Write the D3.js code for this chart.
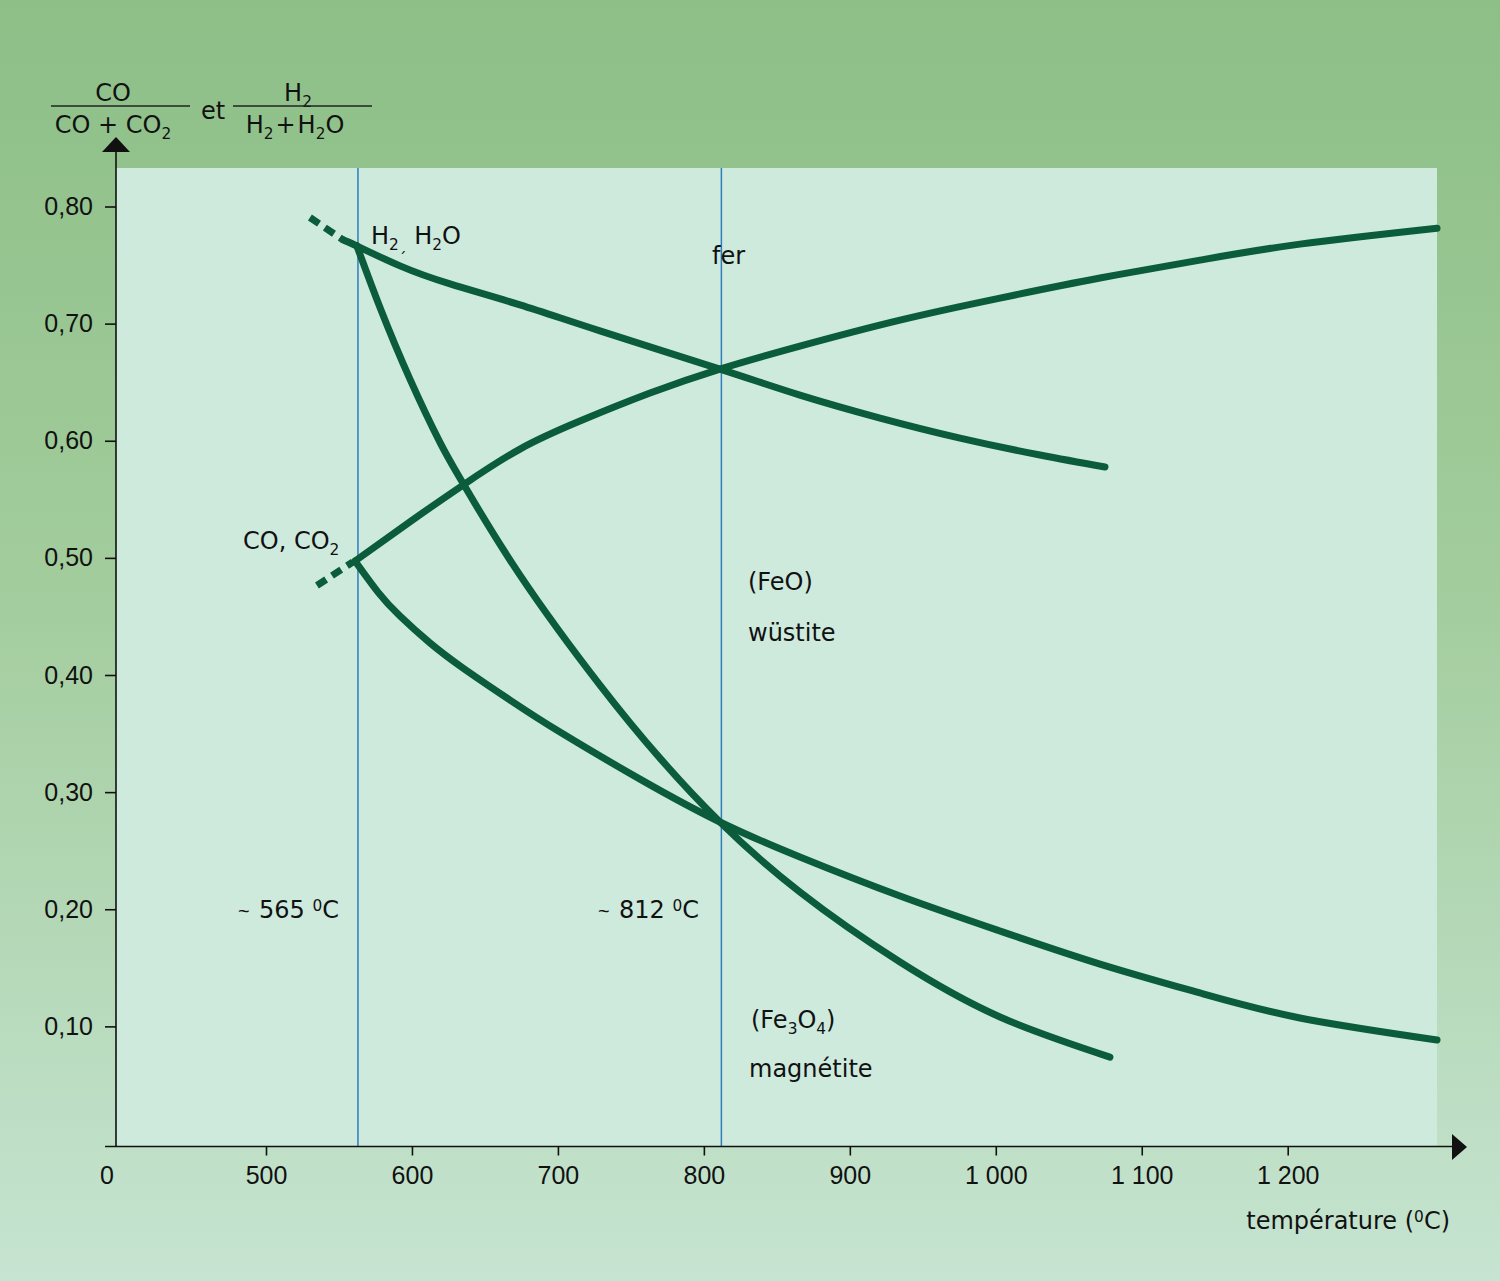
<!DOCTYPE html>
<html><head><meta charset="utf-8">
<script src="https://cdn.jsdelivr.net/npm/d3@7"></script>
<style>
html,body{margin:0;padding:0;background:#fff;}
svg text{fill:#111;}
</style></head>
<body>
<svg id="chart" width="1500" height="1281"></svg>
<script>
// ---- data ----
const tempTicks = [500, 600, 700, 800, 900, 1000, 1100, 1200];
const tempTickLabels = ["500", "600", "700", "800", "900", "1 000", "1 100", "1 200"];
const ratioTicks = [0.1, 0.2, 0.3, 0.4, 0.5, 0.6, 0.7, 0.8];
const ratioTickLabels = ["0,10", "0,20", "0,30", "0,40", "0,50", "0,60", "0,70", "0,80"];

// CO/CO2 : fer / wüstite
const coFeT = [561.0, 599.3, 635.0, 674.0, 715.1, 763.1, 811.0, 865.8, 934.4, 1002.9, 1071.4, 1139.9, 1208.4, 1302.3];
const coFeV = [0.4973, 0.5314, 0.5622, 0.5929, 0.6168, 0.6407, 0.6612, 0.6808, 0.7030, 0.7218, 0.7389, 0.7542, 0.7679, 0.7815];
// CO/CO2 : wüstite / magnétite
const coMagT = [561.0, 576.7, 591.8, 612.4, 635.0, 667.2, 701.4, 756.2, 811.0, 865.8, 934.4, 1002.9, 1071.4, 1139.9, 1208.4, 1302.3];
const coMagV = [0.4973, 0.4708, 0.4503, 0.4273, 0.4059, 0.3786, 0.3513, 0.3111, 0.2745, 0.2446, 0.2113, 0.1814, 0.1532, 0.1285, 0.1072, 0.0884];
// H2/H2O : fer / wüstite
const h2FeT = [552.8, 562.3, 591.8, 626.1, 674.0, 728.8, 811.0, 865.8, 920.7, 975.5, 1030.3, 1074.8];
const h2FeV = [0.7715, 0.7663, 0.7493, 0.7339, 0.7160, 0.6938, 0.6612, 0.6390, 0.6194, 0.6023, 0.5878, 0.5776];
// H2/H2O : wüstite / magnétite
const h2MagT = [562.3, 578.1, 598.7, 619.2, 635.0, 674.0, 728.8, 769.9, 811.0, 865.8, 934.4, 1002.9, 1078.2];
const h2MagV = [0.7663, 0.7138, 0.6524, 0.5986, 0.5636, 0.4853, 0.3914, 0.3290, 0.2745, 0.2147, 0.1549, 0.1080, 0.0738];
// extrapolations (pointillés)
const h2ExtT = [530.1, 552.8];
const h2ExtV = [0.7906, 0.7715];
const coExtT = [534.9, 559.5];
const coExtV = [0.4764, 0.4965];
// températures de transition
const transitionT = [563, 812];

// ---- layout ----
const svg = d3.select("#chart");
const W = 1500, H = 1281;
const plot = {left: 116, right: 1437, top: 168, bottom: 1146};
const numFont = "'Liberation Sans', Arial, Helvetica, sans-serif";
const txtFont = "'DejaVu Sans', Verdana, sans-serif";

const x = d3.scaleLinear().domain([500, 1200]).range([266, 1287.7]);
const y = d3.scaleLinear().domain([0, 0.8]).range([1143.5, 206.5]);

const defs = svg.append("defs");
const grad = defs.append("linearGradient").attr("id", "bg").attr("x1", 0).attr("y1", 0).attr("x2", 0).attr("y2", 1);
grad.append("stop").attr("offset", "0%").attr("stop-color", "#8dbf87");
grad.append("stop").attr("offset", "45%").attr("stop-color", "#a2cc9c");
grad.append("stop").attr("offset", "100%").attr("stop-color", "#c6e4d1");

svg.append("rect").attr("width", W).attr("height", H).attr("fill", "url(#bg)");
svg.append("rect").attr("x", plot.left).attr("y", plot.top)
  .attr("width", plot.right - plot.left).attr("height", plot.bottom - plot.top)
  .attr("fill", "#cdeadd");

// transition lines
svg.selectAll("line.trans").data(transitionT).join("line")
  .attr("class", "trans")
  .attr("x1", d => x(d)).attr("x2", d => x(d))
  .attr("y1", plot.top).attr("y2", plot.bottom)
  .attr("stroke", "#2f7dbd").attr("stroke-width", 1.5);

// curves
const green = "#0a5c3b";
const line = d3.line().x(d => x(d[0])).y(d => y(d[1])).curve(d3.curveNatural);
const zip = (a, b) => a.map((v, i) => [v, b[i]]);
const solids = [zip(coFeT, coFeV), zip(coMagT, coMagV), zip(h2FeT, h2FeV), zip(h2MagT, h2MagV)];
svg.selectAll("path.curve").data(solids).join("path")
  .attr("class", "curve").attr("d", line)
  .attr("fill", "none").attr("stroke", green).attr("stroke-width", 7)
  .attr("stroke-linecap", "round").attr("stroke-linejoin", "round");
const dashed = [zip(h2ExtT, h2ExtV), zip(coExtT, coExtV)];
svg.selectAll("path.ext").data(dashed).join("path")
  .attr("class", "ext").attr("d", d3.line().x(d => x(d[0])).y(d => y(d[1])))
  .attr("fill", "none").attr("stroke", green).attr("stroke-width", 7)
  .attr("stroke-dasharray", "11,7");

// axes
const axisG = svg.append("g");
axisG.append("line").attr("x1", 105).attr("x2", 1452).attr("y1", 1146.5).attr("y2", 1146.5)
  .attr("stroke", "#111").attr("stroke-width", 1.6);
axisG.append("path").attr("d", "M1452,1134 L1467,1147 L1452,1160 Z").attr("fill", "#111");
axisG.append("line").attr("x1", plot.left).attr("x2", plot.left).attr("y1", 1146.5).attr("y2", 150)
  .attr("stroke", "#111").attr("stroke-width", 1.6);
axisG.append("path").attr("d", "M102,152 L116,137 L130,152 Z").attr("fill", "#111");

const xAxis = d3.axisBottom(x).tickValues(tempTicks)
  .tickFormat((d, i) => tempTickLabels[i]).tickSize(9).tickPadding(8);
const gx = svg.append("g").attr("transform", "translate(0,1146.5)").call(xAxis);
gx.select(".domain").remove();
gx.selectAll(".tick line").attr("stroke", "#111").attr("stroke-width", 1.6);
gx.selectAll(".tick text").attr("dy", 20.5)
  .style("font-family", numFont).style("font-size", "25px").style("fill", "#111");

const yAxis = d3.axisLeft(y).tickValues(ratioTicks)
  .tickFormat((d, i) => ratioTickLabels[i]).tickSize(11).tickPadding(12);
const gy = svg.append("g").attr("transform", `translate(${plot.left},0)`).call(yAxis);
gy.select(".domain").remove();
gy.selectAll(".tick line").attr("stroke", "#111").attr("stroke-width", 1.6);
gy.selectAll(".tick text")
  .style("font-family", numFont).style("font-size", "25px").style("fill", "#111");

svg.append("text").attr("x", 107).attr("y", 1184).attr("text-anchor", "middle")
  .style("font-family", numFont).style("font-size", "25px").text("0");

// rich text helper (sub / sup)
function richText(parent, xx, yy, parts, anchor, size) {
  const fs = size || 24;
  const t = parent.append("text").attr("x", xx).attr("y", yy).attr("text-anchor", anchor || "start")
    .style("font-family", txtFont).style("font-size", fs + "px");
  let cur = 0;
  parts.forEach(p => {
    const s = t.append("tspan").text(p[0]);
    const off = p[1] === "sub" ? 6 : p[1] === "sup" ? -7 : 0;
    s.attr("dy", off - cur);
    cur = off;
    if (p[1]) s.style("font-size", (fs * 0.64) + "px");
    if (p[2]) s.attr("dx", p[2]);
  });
  return t;
}

// axis title x
richText(svg, 1450, 1229, [["température ("], ["0", "sup"], ["C)"]], "end", 24);

// axis title y (fractions)
richText(svg, 113, 101, [["CO"]], "middle");
svg.append("line").attr("x1", 51).attr("x2", 190).attr("y1", 106).attr("y2", 106).attr("stroke", "#222").attr("stroke-width", 1.3);
richText(svg, 113, 133, [["CO + CO"], ["2", "sub"]], "middle");
richText(svg, 201, 119, [["et"]], "start");
richText(svg, 298, 101, [["H"], ["2", "sub"]], "middle");
svg.append("line").attr("x1", 233).attr("x2", 372).attr("y1", 106).attr("y2", 106).attr("stroke", "#222").attr("stroke-width", 1.3);
richText(svg, 295, 133, [["H"], ["2", "sub"], ["+", null, 2], ["H", null, 2], ["2", "sub"], ["O"]], "middle");

// annotations
richText(svg, 371, 244, [["H"], ["2", "sub"], ["\u02CF", "sub"], [" H"], ["2", "sub"], ["O"]], "start");
richText(svg, 243, 549, [["CO,  CO"], ["2", "sub"]], "start");
richText(svg, 712, 264, [["fer"]], "start");
richText(svg, 748, 590, [["(FeO)"]], "start");
richText(svg, 748, 641, [["wüstite"]], "start");
richText(svg, 751, 1028, [["(Fe"], ["3", "sub"], ["O"], ["4", "sub"], [")"]], "start");
richText(svg, 749, 1077, [["magnétite"]], "start");
svg.append("text").attr("x", 238).attr("y", 918).style("font-family", numFont).style("font-size", "20px").text("~");
richText(svg, 259, 918, [["565 "], ["0", "sup"], ["C"]], "start");
svg.append("text").attr("x", 598).attr("y", 918).style("font-family", numFont).style("font-size", "20px").text("~");
richText(svg, 619, 918, [["812 "], ["0", "sup"], ["C"]], "start");
</script>
</body></html>
